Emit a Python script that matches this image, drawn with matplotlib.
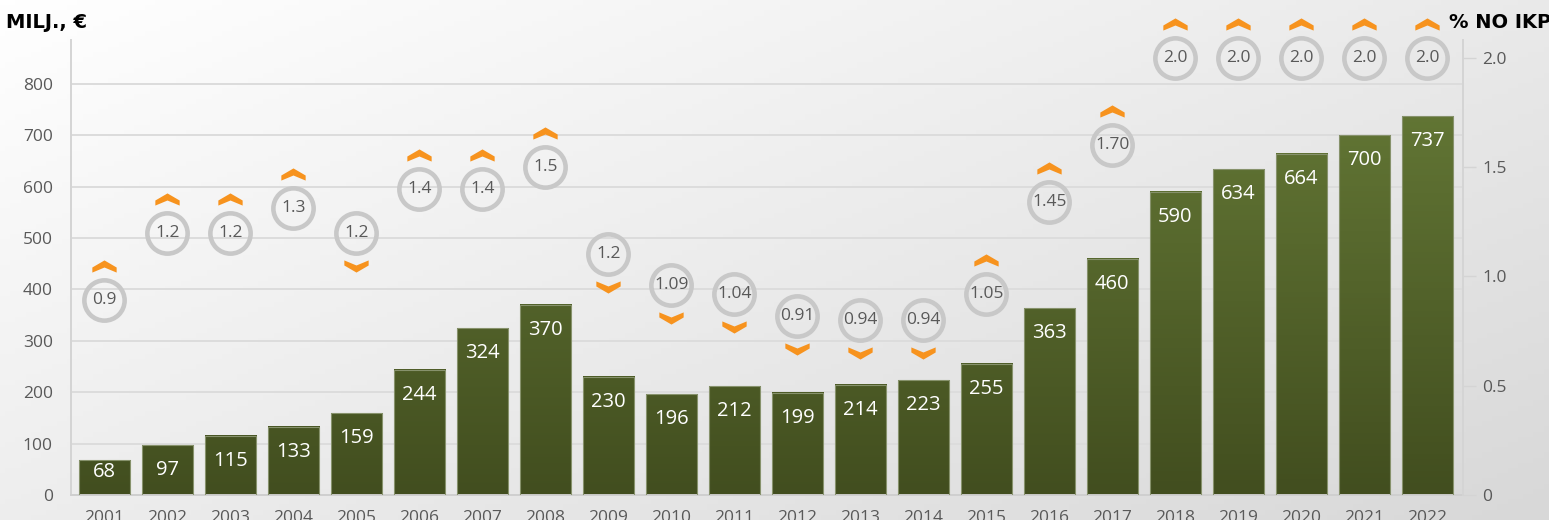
import matplotlib
matplotlib.use("Agg")
import matplotlib.pyplot as plt
import matplotlib.transforms as mtransforms
from matplotlib.colors import LinearSegmentedColormap
from matplotlib.path import Path
import numpy as np

# data
years = [str(y) for y in range(2001, 2023)]
funding = [68, 97, 115, 133, 159, 244, 324, 370, 230, 196, 212,
           199, 214, 223, 255, 363, 460, 590, 634, 664, 700, 737]
# share of GDP, as placed on the right axis, and the labels printed in the circles
gdp_pos = [0.89, 1.2, 1.2, 1.31, 1.2, 1.4, 1.4, 1.5, 1.1, 0.96, 0.92,
           0.82, 0.80, 0.80, 0.92, 1.34, 1.60, 2.0, 2.0, 2.0, 2.0, 2.0]
gdp_labels = ["0.9", "1.2", "1.2", "1.3", "1.2", "1.4", "1.4", "1.5", "1.2", "1.09", "1.04",
              "0.91", "0.94", "0.94", "1.05", "1.45", "1.70", "2.0", "2.0", "2.0", "2.0", "2.0"]
trend = ["up", "up", "up", "up", "down", "up", "up", "up", "down", "down", "down",
         "down", "down", "down", "up", "up", "up", "up", "up", "up", "up", "up"]

plt.rcParams["font.family"] = ["Open Sans", "DejaVu Sans"]
GREY = "#595959"
ORANGE = "#f7931e"
RING = "#c8c8c8"

fig = plt.figure(figsize=(15.49, 5.2), dpi=100)

# diagonal light-grey background
bg = fig.add_axes([0, 0, 1, 1], zorder=-10)
gx, gy = np.meshgrid(np.linspace(0, 1, 300), np.linspace(0, 1, 100))
grad = 0.55 * gx + 0.45 * gy
bg_cmap = LinearSegmentedColormap.from_list("bg", ["#ffffff", "#d8d8d8"])
bg.imshow(grad, cmap=bg_cmap, aspect="auto", extent=[0, 1, 0, 1], origin="upper")
bg.set_axis_off()

ax = fig.add_axes([0.0458, 0.048, 0.8987, 0.875])
ax.set_facecolor("none")
ax2 = ax.twinx()

x = np.arange(len(years))
width = 0.81
ymax = 885

# bars with a vertical gradient tied to the value axis
bar_cmap = LinearSegmentedColormap.from_list("bar", ["#424e1f", "#647836"])
for xi, v in zip(x, funding):
    col = np.linspace(0, v / 800, 64)[:, None]
    ax.imshow(col, cmap=bar_cmap, vmin=0, vmax=1, aspect="auto", origin="lower",
              extent=[xi - width / 2, xi + width / 2, 0, v], zorder=2)
ax.bar(x, funding, width=width, facecolor="none", edgecolor="#87926c", linewidth=0.8, zorder=3)

for xi, v in zip(x, funding):
    ly = max(v - 48.6, 44.7)
    ax.text(xi, ly, str(v), ha="center", va="center", color="white", fontsize=14.5, zorder=4)

ax.set_xlim(-0.53, len(years) - 0.43)
ax.set_ylim(0, ymax)
ax.set_yticks(range(0, 801, 100))
ax.yaxis.grid(True, color="#dcdcdc", linewidth=1.4)
ax.set_axisbelow(True)
ax.set_xticks(x)
ax.set_xticklabels(years)
ax.tick_params(axis="x", length=0, pad=11, labelsize=12.5, labelcolor=GREY)
ax.tick_params(axis="y", length=0, pad=13, labelsize=12.5, labelcolor=GREY)
for s in ["top", "right"]:
    ax.spines[s].set_visible(False)
ax.spines["left"].set_color("#d4d4d4")
ax.spines["left"].set_linewidth(1.4)
ax.spines["bottom"].set_color("#cfcfcf")
ax.spines["bottom"].set_linewidth(1.4)

# right axis: share of GDP
ax2.set_ylim(0, 2.08)
ax2.set_yticks([0, 0.5, 1.0, 1.5, 2.0])
ax2.set_yticklabels(["0", "0.5", "1.0", "1.5", "2.0"])
ax2.tick_params(axis="y", length=9, width=1, color="#d4d4d4", pad=5, labelsize=12.5, labelcolor=GREY)
for s in ["top", "left", "bottom"]:
    ax2.spines[s].set_visible(False)
ax2.spines["right"].set_color("#d4d4d4")
ax2.spines["right"].set_linewidth(1.4)

ax2.plot(x, gdp_pos, linestyle="none", marker="o", markersize=29, markerfacecolor="none",
         markeredgecolor=RING, markeredgewidth=3.3, zorder=5, clip_on=False)
for xi, yv, lab in zip(x, gdp_pos, gdp_labels):
    ax2.text(xi, yv, lab, ha="center", va="center", color=GREY, fontsize=12.5, zorder=6)

# chevrons
up_verts = [(-12, -6), (-12, -1), (0, 6), (12, -1), (12, -6), (0, -1), (-12, -6)]
up_path = Path(up_verts, closed=True)
down_path = Path([(vx, -vy) for vx, vy in up_verts], closed=True)
up_tr = mtransforms.offset_copy(ax2.transData, fig, x=0, y=34, units="dots")
down_tr = mtransforms.offset_copy(ax2.transData, fig, x=0, y=-33, units="dots")
xu = [xi for xi, t in zip(x, trend) if t == "up"]
yu = [yv for yv, t in zip(gdp_pos, trend) if t == "up"]
xd = [xi for xi, t in zip(x, trend) if t == "down"]
yd = [yv for yv, t in zip(gdp_pos, trend) if t == "down"]
ax2.plot(xu, yu, linestyle="none", marker=up_path, markersize=17.5, color=ORANGE,
         markeredgewidth=0, transform=up_tr, clip_on=False, zorder=6)
ax2.plot(xd, yd, linestyle="none", marker=down_path, markersize=17.5, color=ORANGE,
         markeredgewidth=0, transform=down_tr, clip_on=False, zorder=6)

fig.text(6 / 1549, 1 - 22 / 520, "MILJ., €", fontsize=14, fontweight="heavy",
         family="DejaVu Sans", color="black", va="center", ha="left")
fig.text(1449 / 1549, 1 - 22 / 520, "% NO IKP", fontsize=14, fontweight="heavy",
         family="DejaVu Sans", color="black", va="center", ha="left")

fig.savefig("out.png", dpi=100)
